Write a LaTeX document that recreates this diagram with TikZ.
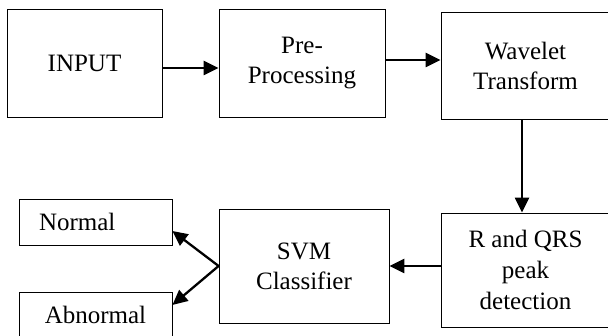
\documentclass[tikz,border=0pt]{standalone}
\usepackage{fontspec}
\setmainfont{Liberation Serif}
\usepackage{tikz}
\usetikzlibrary{shapes,arrows.meta,positioning,calc}
\tikzset{
    block/.style={rectangle, draw, line width=0.8pt, align=center, inner sep=0pt, font=\fontsize{25}{30}\selectfont},
    line/.style={draw, line width=2.3pt, -{Triangle[length=15pt,width=14pt]}}
}

\begin{document}
\begin{tikzpicture}[x=1pt, y=-1pt]
    % Page frame
    \clip (0,0) rectangle (608,336);

    % Top row
    \node[block, minimum width=155pt, minimum height=108pt] (input) at (84.5,63) {INPUT};
    \node[block, minimum width=166pt, minimum height=108pt] (prep) at (302,63) {Pre-\\Processing};
    \node[block, minimum width=169pt, minimum height=107pt] (wavelet) at (525.5,65.5) {Wavelet\\Transform};

    % Bottom row
    \node[block, minimum width=169pt, minimum height=114pt, font=\fontsize{25}{31}\selectfont] (peak) at (525.5,270) {R and QRS\\peak\\detection};
    \node[block, minimum width=170pt, minimum height=114pt] (svm) at (304,266) {SVM\\Classifier};

    % Classes
    \node[block, minimum height=46pt, inner xsep=20pt, text width=113pt, align=left] (normal) at (95.5,222) {Normal};
    \node[block, minimum width=153pt, minimum height=46pt] (abnormal) at (95.5,315) {Abnormal};

    % Flow
    \draw[line] ([yshift=-5pt]input.east) -- ([yshift=-5pt]prep.west);
    \draw[line] ([yshift=3pt]prep.east) -- ([yshift=5.5pt]wavelet.west);
    \draw[line] ([xshift=-3.5pt]wavelet.south) -- ([xshift=-3.5pt]peak.north);
    \draw[line] ([yshift=4pt]peak.west) -- (svm.east);
    \draw[line] (svm.west) -- ([yshift=-9pt]normal.east);
    \draw[line] (svm.west) -- ([yshift=10pt]abnormal.east);
\end{tikzpicture}
\end{document}
